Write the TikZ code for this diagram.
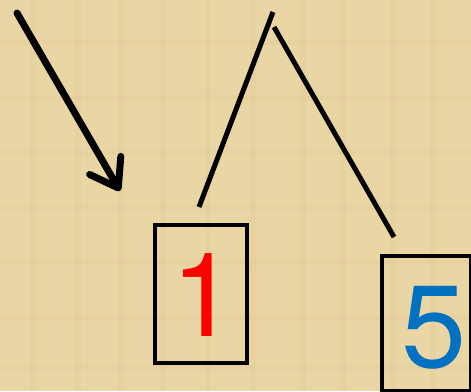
\documentclass[tikz,border=0pt]{standalone}
\usepackage{fontspec}
\setmainfont{TeX Gyre Heros}
\usetikzlibrary{arrows.meta}
\definecolor{parch}{RGB}{234,214,164}
\definecolor{parchdark}{RGB}{222,198,145}
\definecolor{digred}{RGB}{255,0,0}
\definecolor{digblue}{RGB}{0,112,192}
\tikzset{
  boxed/.style={draw=black, line width=4pt, inner sep=0pt, anchor=north west},
  digit/.style={inner sep=0pt, anchor=base, font=\fontsize{117}{117}\selectfont},
  stroke/.style={draw=black, line width=5pt},
  bigarrow/.style={draw=black, line width=7pt, line cap=round,
    -{Straight Barb[length=26pt,width=36pt,round]}}
}
\begin{document}
\begin{tikzpicture}[x=1pt,y=-1pt]
\useasboundingbox (0,0) rectangle (471,391);
\fill[parch] (0,0) rectangle (471,391);
% subtle papyrus texture
\foreach \xx in {30,75,118,160,205,250,300,340,390,430}
  \fill[parchdark, opacity=0.25] (\xx,0) rectangle (\xx+6,391);
\foreach \yy in {40,95,150,205,260,315,365}
  \fill[parchdark, opacity=0.25] (0,\yy) rectangle (471,\yy+5);
% boxes
\node[boxed, minimum width=92pt, minimum height=138pt] (box1) at (152.5,222.5) {};
\node[boxed, minimum width=89pt, minimum height=135pt] (box5) at (380,254) {};
\node[digit, text=digred] (t1) at (204,336) {1};
\node[digit, text=digblue] (t5) at (434,367) {5};
% lines
\coordinate (a1) at (199,207);
\coordinate (a2) at (273,12);
\coordinate (b1) at (274,27);
\coordinate (b2) at (394,237);
\draw[stroke] (a1) -- (a2);
\draw[stroke] (b1) -- (b2);
% arrow
\coordinate (s) at (17,13);
\coordinate (e) at (120,191);
\draw[bigarrow] (s) -- (e);
\end{tikzpicture}
\end{document}
